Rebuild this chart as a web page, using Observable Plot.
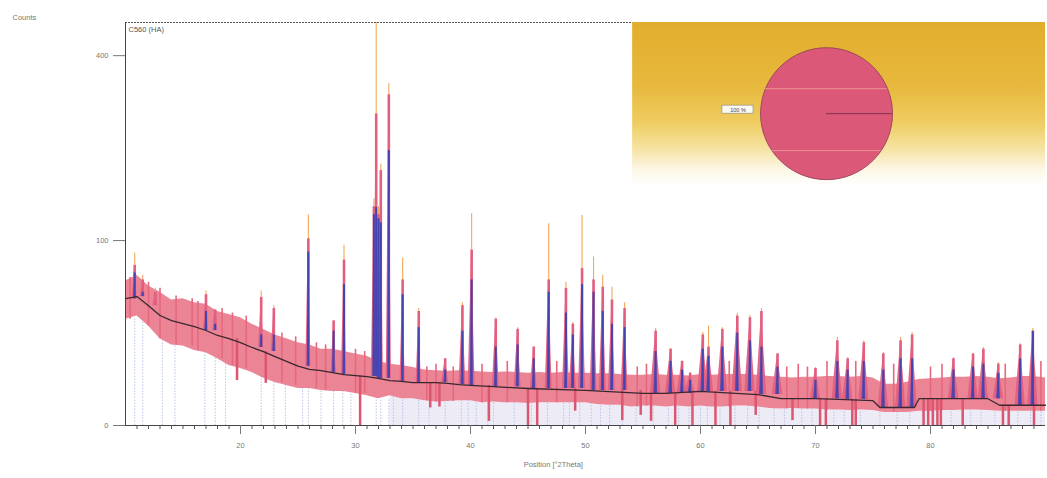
<!DOCTYPE html>
<html><head><meta charset="utf-8">
<script src="https://cdn.jsdelivr.net/npm/d3@7"></script>
<script src="https://cdn.jsdelivr.net/npm/@observablehq/plot@0.6"></script>
<style>
html,body{margin:0;padding:0;background:#fff;}
#chart{width:1047px;height:478px;overflow:hidden;}
svg{display:block;}
</style></head><body><div id="chart"></div>
<script>
// ---- data (counts, °2Theta) ----
const yLabel = "Counts";
const xLabel = "Position [°2Theta]";
const seriesLabel = "C560 (HA)";
const xTicks = [20, 30, 40, 50, 60, 70, 80];
const xMinorTicks = [11,12,13,14,15,16,17,18,19,21,22,23,24,25,26,27,28,29,31,32,33,34,35,36,37,38,39,41,42,43,44,45,46,47,48,49,51,52,53,54,55,56,57,58,59,61,62,63,64,65,66,67,68,69,71,72,73,74,75,76,77,78,79,81,82,83,84,85,86,87,88,89];
const yTicks = [0, 100, 400];

// observed band (noisy red trace): lower / upper edges
const bandX  = [10,11,12,13,14,15,16,17,18,19,20,21,22,23,24,25,26,27,28,29,30,31,32,33,34,35,36,37,38,39,40,41,42,43,44,45,46,47,48,49,50,51,52,53,54,55,56,57,58,59,60,61,62,63,64,65,66,67,68,69,70,71,72,73,74,75,76,77,78,79,80,81,82,83,84,85,86,87,88,89,90];
const bandHi = [61,66,57,52,46,47,44,43,38,36,34,30,27,24,22,20,19,17,17,16,15,14,12,11,10.5,9.8,9,8.8,8.6,8.8,8.6,8.4,8.2,8.4,8.2,8.0,8.2,8.0,8.2,8.0,8.0,7.8,7.8,7.6,7.4,7.4,7.6,7.4,7.4,7.2,7.6,7.4,7.6,7.6,7.6,7.4,7.0,6.8,6.6,6.8,6.8,7.0,7.0,6.8,7.0,6.6,5.0,5.0,5.5,6.2,6.4,6.6,6.8,6.8,7.0,6.8,6.4,6.6,7.0,7.0,6.6];
const bandLo = [33,35,29,22,19,18.5,16.5,15.5,13,10.5,9.5,8.2,6.5,5.4,4.7,4.0,4.0,3.6,3.4,3.4,3.0,2.6,2.1,2.6,2.1,2.1,1.8,1.6,1.7,1.8,1.8,1.5,1.6,1.5,1.5,1.4,1.5,1.5,1.5,1.5,1.5,1.3,1.2,1.2,1.0,1.1,1.1,1.0,1.1,1.0,1.1,1.0,1.0,1.1,1.1,1.0,0.85,0.8,0.85,0.8,0.8,0.7,0.7,0.65,0.7,0.65,0.5,0.5,0.5,0.6,0.6,0.66,0.66,0.7,0.7,0.66,0.6,0.6,0.6,0.6,0.6];

// small spikes on top of the noisy band
const fuzzX   = [10.4,12.0,13.0,14.4,15.8,16.3,18.4,19.3,20.5,23.6,24.8,26.6,27.4,30.0,30.8,36.2,37.0,38.5,41.0,43.2,47.5,54.5,55.3,62.5,67.5,68.5,69.3,71.0,73.5,76.8,80.0,81.0,86.5,89.6];
const fuzzTop = [64,60,55,49,47,45,40,37,35,25,23,20,19,17,16,10,11,10,11,12,12,10,11,12,10,11,10,12,12,11,10,11,11,12];

// fitted background (dark line)
const bgX = [10,11,12,13,14,15,16,17,18,19,20,21,22,23,24,25,26,27,28,29,30,31,32,33,34,35,36,37,38,39,40,42,45,50,55,57,60,65,67,70,72,75,75.6,78.6,79,85,86,90];
const bgY = [47,48.6,42,35.4,32.2,30.4,28.6,26.4,23.7,22.1,20.1,17.8,16,13.9,12,10.3,9.2,8.8,8.2,7.6,7.3,7.0,6.5,5.9,5.7,5.4,5.4,5.4,5.2,4.9,4.7,4.4,4.0,3.6,3.0,3.0,3.4,2.8,2.1,2.1,2.0,1.8,0.95,0.95,2.1,2.1,1.2,1.2];

// peaks: position, highest point (orange), observed (red), calculated (blue)
const peakX    = [10.8,11.5,12.6,17.0,17.8,21.8,22.9,25.9,28.1,29.0,31.6,31.8,32.0,32.2,32.9,34.1,35.5,37.8,39.3,40.1,42.2,44.1,45.5,46.8,48.3,48.9,49.7,50.7,51.5,52.3,53.4,56.1,57.4,58.4,59.1,60.2,60.7,61.9,63.2,64.3,65.3,66.7,70.0,71.9,72.8,74.2,75.9,77.4,78.4,82.0,83.7,84.6,85.9,87.8,88.9];
const peakTop  = [87,66,55,53,39,53,42,130,32,95,150,475,140,200,342,82,40,13,44,131,34,28,18,119,60,31,129,83,66,56,44,27.5,17.3,12.3,8.2,25.3,29,28,36.7,35.4,40,15.1,9.8,22.6,13.5,21,15.6,22.6,25.3,13.5,15.1,17.8,11.6,19.6,27.5];
const peakObs  = [75,62,52,50,39,48,40,102,32,80,140,284,130,190,320,62,38,13,42,90,33,27,18,62,55,30,72,62,56,46,40,26,17,12,8,24,18,27,35,34,38,15,9.5,21,13,20,15,21,24,13,15,17,11,19,26];
const peakCalc = [68,52,42,38,30,24,24,88,26,58,130,139,125,120,221,50,28,9,26,62,18,19,13,52,37,24,58,52,38,30,28,16,12,9,6,17,14,18,25,21,18,10,6,12,9,12,9,13,13,9,10,11,8,13,26];

// downward dips of the observed trace (bottom count)
const dropX = [19.7,22.2,30.4,36.5,37.3,41.6,45.0,45.8,49.1,53.2,54.8,55.7,57.8,59.3,61.3,62.6,64.8,68.0,70.4,70.9,73.2,73.5,79.4,79.8,80.2,80.6,80.9,82.8,86.3,86.8,89.0];
const dropY = [5.9,5.2,0,0.9,1.0,0.05,0,0,0.6,0.07,0.3,0.05,0,0,0,0,0.3,0.07,0,0,0,0,0,0,0,0,0,0,0,0,0];

// reference reflection markers (pale dotted lines)
const refX = [10.8,11.5,13.2,14.3,16.9,17.8,18.7,21.8,22.9,23.9,25.4,25.9,27.0,28.1,28.9,29.6,31.8,32.2,32.9,33.3,34.1,35.5,36.4,37.8,39.2,39.8,40.5,41.5,42.0,43.8,45.3,46.7,48.1,48.6,49.5,50.5,51.3,52.1,53.2,54.4,55.9,57.2,58.1,59.0,60.0,60.6,61.7,63.0,64.1,65.1,66.4,67.3,68.8,69.7,71.6,72.5,73.9,75.6,77.1,78.2,79.3,80.3,81.8,83.5,84.4,85.6,86.9,87.6,88.7,89.6];

// phase composition (inset pie)
const phaseNames = ["HA"];
const phasePct = [100];

// ---- layout / style options ----
const inset = {x1: 54.1, x2: 90, y1: 168, y2: 475, cx: 70.96, cy: 284.4, r: 66,
  boxX1: 61.91, boxX2: 64.61, boxY1: 284.4, boxY2: 299.2, boxTx: 63.26, boxTy: 291.6,
  lineX2: 76.7, chordY: [331.8, 221], chordX1: [65.65, 66.2], chordX2: [76.26, 75.7]};
const peakWidth = x => (x > 54 ? {red: 0.45, blue: 0.17} : x > 36 ? {red: 0.3, blue: 0.13} : {red: 0.22, blue: 0.1});

// ---- tables built from the arrays ----
function stepLookup(xs, ys, x) { const i = Math.max(0, d3.bisectRight(xs, x) - 1); return ys[i]; }
const band = bandX.map((x, i) => ({x, lo: bandLo[i], hi: bandHi[i]}));
const bg = bgX.map((x, i) => ({x, y: bgY[i]}));
const peaks = peakX.map((x, i) => ({id: i, x, top: peakTop[i], obs: peakObs[i], calc: peakCalc[i], base: stepLookup(bgX, bgY, x)}));
function triangles(key, which) {
  return peaks.flatMap(p => {
    const hw = peakWidth(p.x)[which];
    return [
      {id: p.id, x: p.x - hw, base: p.base, y: p.base},
      {id: p.id, x: p.x, base: p.base, y: p[key]},
      {id: p.id, x: p.x + hw, base: p.base, y: p.base}];
  });
}
const redTri = triangles("obs", "red");
const blueTri = triangles("calc", "blue");
const fuzz = fuzzX.map((x, i) => ({x, top: fuzzTop[i], base: stepLookup(bandX, bandLo, x)}));
const drops = dropX.map((x, i) => ({x, y1: dropY[i], y2: stepLookup(bgX, bgY, x)}));
const refs = refX.map(x => ({x, top: stepLookup(bandX, bandLo, x)}));
const phases = phaseNames.map((n, i) => ({name: n, pct: phasePct[i]}));
const chords = inset.chordY.map((y, i) => ({y, x1: inset.chordX1[i], x2: inset.chordX2[i]}));

const font = "'Liberation Sans', Arial, sans-serif";
const svg = Plot.plot({
  width: 1047, height: 478,
  marginLeft: 125, marginRight: 2, marginTop: 22, marginBottom: 53,
  x: {domain: [10, 90]},
  y: {type: "sqrt", domain: [0, 475]},
  style: {fontFamily: font, fontSize: "7.5px", color: "#666", background: "#fff"},
  marks: [
    Plot.rect([0], {x1: inset.x1, x2: inset.x2, y1: inset.y1, y2: inset.y2, fill: "url(#goldfade)"}),
    Plot.areaY(band.filter(d => d.x >= 33), {x: "x", y1: 0, y2: "lo", fill: "#ecebf6"}),
    Plot.ruleX(refs, {x: "x", y1: 0, y2: "top", stroke: "#bcc5e4", strokeWidth: 1, strokeDasharray: "1.5,1.5"}),
    // observed band
    Plot.areaY(band, {x: "x", y1: "lo", y2: "hi", fill: "#e87487", fillOpacity: 0.88}),
    Plot.ruleX(fuzz, {x: "x", y1: "base", y2: "top", stroke: "#e7687e", strokeWidth: 1.6}),
    Plot.ruleX(drops, {x: "x", y1: "y1", y2: "y2", stroke: "#dc5670", strokeWidth: 2.5}),
    // peaks
    Plot.ruleX(peaks, {x: "x", y1: "calc", y2: "top", stroke: "#f0a85c", strokeWidth: 1.1}),
    Plot.areaY(redTri, {x: "x", y1: "base", y2: "y", z: "id", fill: "#e35f80", fillOpacity: 0.95}),
    Plot.ruleX(peaks, {x: "x", y1: "base", y2: "obs", stroke: "#e35f80", strokeWidth: 2.6}),
    Plot.areaY(blueTri, {x: "x", y1: "base", y2: "y", z: "id", fill: "#4646b2", fillOpacity: 0.8}),
    Plot.ruleX(peaks, {x: "x", y1: "base", y2: "calc", stroke: "#4444b0", strokeWidth: 2}),
    // background fit
    Plot.line(bg, {x: "x", y: "y", stroke: "#3a2830", strokeWidth: 1.3}),
    // frame and axes
    Plot.ruleY([475], {x1: 10, x2: inset.x1, stroke: "#555", strokeDasharray: "2,1"}),
    Plot.ruleX([10], {stroke: "#444"}),
    Plot.ruleY([0], {stroke: "#444"}),
    Plot.axisY({ticks: yTicks, tickSize: 12, tickPadding: 5, label: null, color: "#777"}),
    Plot.axisX({ticks: xTicks, tickSize: 9, tickPadding: 8, label: null, color: "#777"}),
    Plot.axisX({ticks: xMinorTicks, tickSize: 4, tickFormat: () => "", label: null, color: "#555"}),
    // texts
    Plot.text([yLabel], {text: d => d, frameAnchor: "top-left", dx: -113, dy: -8, textAnchor: "start", fill: "#777"}),
    Plot.text([seriesLabel], {text: d => d, x: 10, y: 475, dx: 3, dy: 7, textAnchor: "start", fill: "#555"}),
    Plot.text([xLabel], {text: d => d, x: 47.2, y: 0, dy: 39, fill: "#777"}),
    // inset pie (single phase = 100 %)
    Plot.dot(phases, {x: () => inset.cx, y: () => inset.cy, r: inset.r, fill: "#dc5878", stroke: "#8a3a55", strokeWidth: 0.8}),
    Plot.ruleY(chords, {y: "y", x1: "x1", x2: "x2", stroke: "#f4b7a8", strokeOpacity: 0.6, strokeWidth: 1}),
    Plot.ruleY(phases, {y: () => inset.cy, x1: () => inset.cx, x2: () => inset.lineX2, stroke: "#6a2a40", strokeWidth: 0.8}),
    Plot.rect(phases, {x1: () => inset.boxX1, x2: () => inset.boxX2, y1: () => inset.boxY1, y2: () => inset.boxY2, fill: "#fbfaf3", stroke: "#888", strokeWidth: 0.6}),
    Plot.text(phases, {x: () => inset.boxTx, y: () => inset.boxTy, text: d => `${d.pct} %`, fontSize: 5.5, fill: "#444"})
  ]
});

const defs = d3.select(svg).insert("defs", ":first-child");
const grad = defs.append("linearGradient").attr("id", "goldfade").attr("x1", 0).attr("y1", 0).attr("x2", 0).attr("y2", 1);
[[0, "#e2ad2c"], [0.4, "#e7b93e"], [0.62, "#efcd62"], [0.78, "#f6e4a4"], [0.9, "#fcf6e4"], [1, "#ffffff"]]
  .forEach(([o, c]) => grad.append("stop").attr("offset", o).attr("stop-color", c));
document.getElementById("chart").appendChild(svg);
</script></body></html>
